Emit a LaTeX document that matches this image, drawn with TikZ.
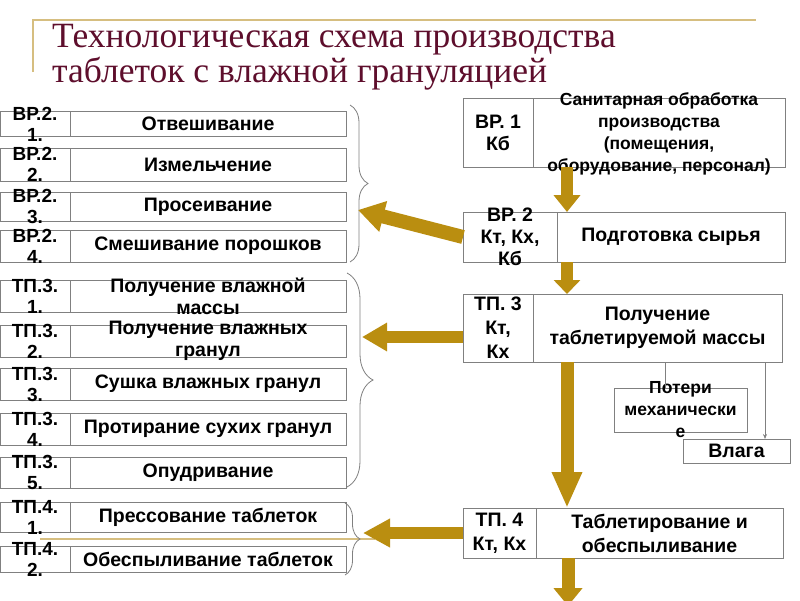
\documentclass[tikz,border=0pt]{standalone}
\usepackage{fontspec}
\setmainfont{Liberation Serif}
\setsansfont{Liberation Sans}
\usetikzlibrary{arrows.meta,decorations.pathreplacing,positioning}

\definecolor{titlewine}{RGB}{94,14,44}
\definecolor{framegold}{RGB}{214,190,128}
\definecolor{arrowgold}{RGB}{186,142,16}
\definecolor{cellgray}{RGB}{128,128,128}

\tikzset{
  cell/.style={draw=cellgray, line width=0.9pt, fill=white, inner sep=0pt, outer sep=0pt},
  celltext/.style={font=\sffamily\bfseries\fontsize{19.5}{24}\selectfont, align=center, inner sep=0pt},
  codetext/.style={celltext, font=\sffamily\bfseries\fontsize{19}{21}\selectfont},
  smalltext/.style={celltext, font=\sffamily\bfseries\fontsize{17.5}{22}\selectfont},
  fatarrow/.style={draw=arrowgold, line width=#1},
  bracket/.style={draw=cellgray, line width=0.8pt, decorate},
  thinline/.style={draw=cellgray, line width=0.6pt}
}

\begin{document}
\begin{tikzpicture}[x=1pt, y=-1pt]
        \fill[white] (0,0) rectangle (800,600);
        \useasboundingbox (0,0) rectangle (800,600);
        % Title with the slide frame
        \draw[framegold, line width=1.5pt] (33,72) -- (33,20) -- (756,20);
        \draw[framegold, line width=1.2pt] (40,539) -- (375,539);
        \node[anchor=base west, inner sep=0pt, text=titlewine, font=\fontsize{35.5}{40}\selectfont] (title1) at (52,47) {Технологическая схема производства};
        \node[anchor=base west, inner sep=0pt, text=titlewine, font=\fontsize{35.5}{40}\selectfont] (title2) at (52,82) {таблеток с влажной грануляцией};
        % Operations (left column)
        \foreach \i/\yc/\h/\code/\txt in {
            1/124/25/{ВР.2.\\1.}/{Отвешивание},
            2/164.5/33/{ВР.2.\\2.}/{Измельчение},
            3/206.5/29/{ВР.2.\\3.}/{Просеивание},
            4/246/32/{ВР.2.\\4.}/{Смешивание порошков},
            5/296/32/{ТП.3.\\1.}/{Получение влажной\\массы},
            6/341/32/{ТП.3.\\2.}/{Получение влажных\\гранул},
            7/384/32/{ТП.3.\\3.}/{Сушка влажных гранул},
            8/429/32/{ТП.3.\\4.}/{Протирание сухих гранул},
            9/472.5/31/{ТП.3.\\5.}/{Опудривание},
            10/517/30/{ТП.4.\\1.}/{Прессование таблеток},
            11/559/26/{ТП.4.\\2.}/{Обеспыливание таблеток}}{
            \node[cell, minimum width=70pt, minimum height=\h pt] (code\i) at (35,\yc) {};
            \node[cell, minimum width=276pt, minimum height=\h pt, right=0pt of code\i] (name\i) {};
            \node[codetext] (codetxt\i) at (code\i) {\code};
            \node[celltext, font=\sffamily\bfseries\fontsize{19.5}{22}\selectfont] (nametxt\i) at (name\i) {\txt};
        }
        \draw[bracket, decoration={brace, amplitude=18pt}] (350,105) -- (350,262);
        \draw[bracket, decoration={brace, amplitude=26pt}] (347,273) -- (347,487);
        \draw[bracket, decoration={brace, amplitude=15pt}] (345,503) -- (345,575);
        % Stages (right column)
        \node[cell, minimum width=70pt, minimum height=69pt] (vr1code) at (498,132.5) {};
        \node[cell, minimum width=252pt, minimum height=69pt, right=0pt of vr1code] (vr1) {};
        \node[celltext, font=\sffamily\bfseries\fontsize{19.5}{22}\selectfont] (vr1codetxt) at (vr1code) {ВР. 1\\Кб};
        \node[smalltext] (vr1txt) at ([yshift=-1.5pt]vr1.center) {Санитарная обработка\\производства\\(помещения,\\оборудование, персонал)};
        \node[cell, minimum width=94pt, minimum height=50pt] (vr2code) at (510,237) {};
        \node[cell, minimum width=228pt, minimum height=50pt, right=0pt of vr2code] (vr2) {};
        \node[celltext, font=\sffamily\bfseries\fontsize{19.5}{22}\selectfont] (vr2codetxt) at (vr2code) {ВР. 2\\Кт, Кх,\\Кб};
        \node[celltext] (vr2txt) at (vr2) {Подготовка сырья};
        \node[cell, minimum width=70pt, minimum height=68pt] (tp3code) at (498,328) {};
        \node[cell, minimum width=249pt, minimum height=68pt, right=0pt of tp3code] (tp3) {};
        \node[celltext] (tp3codetxt) at (tp3code) {ТП. 3\\Кт,\\Кх};
        \node[celltext] (tp3txt) at (tp3) {Получение\\таблетируемой массы};
        \node[cell, minimum width=133pt, minimum height=44pt] (loss) at (680.5,410) {};
        \node[smalltext] (losstxt) at (loss) {Потери\\механически\\е};
        \node[cell, minimum width=107pt, minimum height=24pt] (wet) at (736.5,451) {};
        \node[celltext] (wettxt) at (wet) {Влага};
        \node[cell, minimum width=73pt, minimum height=50pt] (tp4code) at (499.5,533) {};
        \node[cell, minimum width=247pt, minimum height=50pt, right=0pt of tp4code] (tp4) {};
        \node[celltext] (tp4codetxt) at (tp4code) {ТП. 4\\Кт, Кх};
        \node[celltext] (tp4txt) at (tp4) {Таблетирование и\\обеспыливание};
        % Losses
        \draw[thinline] ([xshift=-15.5pt]loss.north |- tp3.south) -- ([xshift=-15.5pt]loss.north);
        \draw[thinline, -{Stealth[length=5pt,width=4pt]}] ([xshift=28.5pt]wet.north |- tp3.south) -- ([xshift=28.5pt]wet.north);
        % Gold arrows
        \coordinate (colx) at (567,0);
        \coordinate (exit) at (568,606);
        \coordinate (vrtip) at (358,210);
        \coordinate (tp3tip) at (362,337);
        \coordinate (tp4tip) at (363,533);
        \draw[fatarrow=12pt, -{Triangle[length=17pt,width=26pt]}] (vr1.south -| colx) -- (vr2.north -| colx);
        \draw[fatarrow=12pt, -{Triangle[length=14pt,width=26pt]}] (vr2.south -| colx) -- (tp3.north -| colx);
        \draw[fatarrow=13pt, -{Triangle[length=36pt,width=28pt]}] (tp3.south -| colx) -- (tp4.north -| colx);
        \draw[fatarrow=13pt, -{Triangle[length=18pt,width=28pt]}] (tp4.south -| exit) -- (exit);
        \draw[fatarrow=14pt, -{Triangle[length=26pt,width=30pt]}] (vr2code.west) -- (vrtip);
        \draw[fatarrow=12pt, -{Triangle[length=25pt,width=27pt]}] (tp3code.west |- tp3tip) -- (tp3tip);
        \draw[fatarrow=12pt, -{Triangle[length=27pt,width=27pt]}] (tp4code.west |- tp4tip) -- (tp4tip);
\end{tikzpicture}
\end{document}
